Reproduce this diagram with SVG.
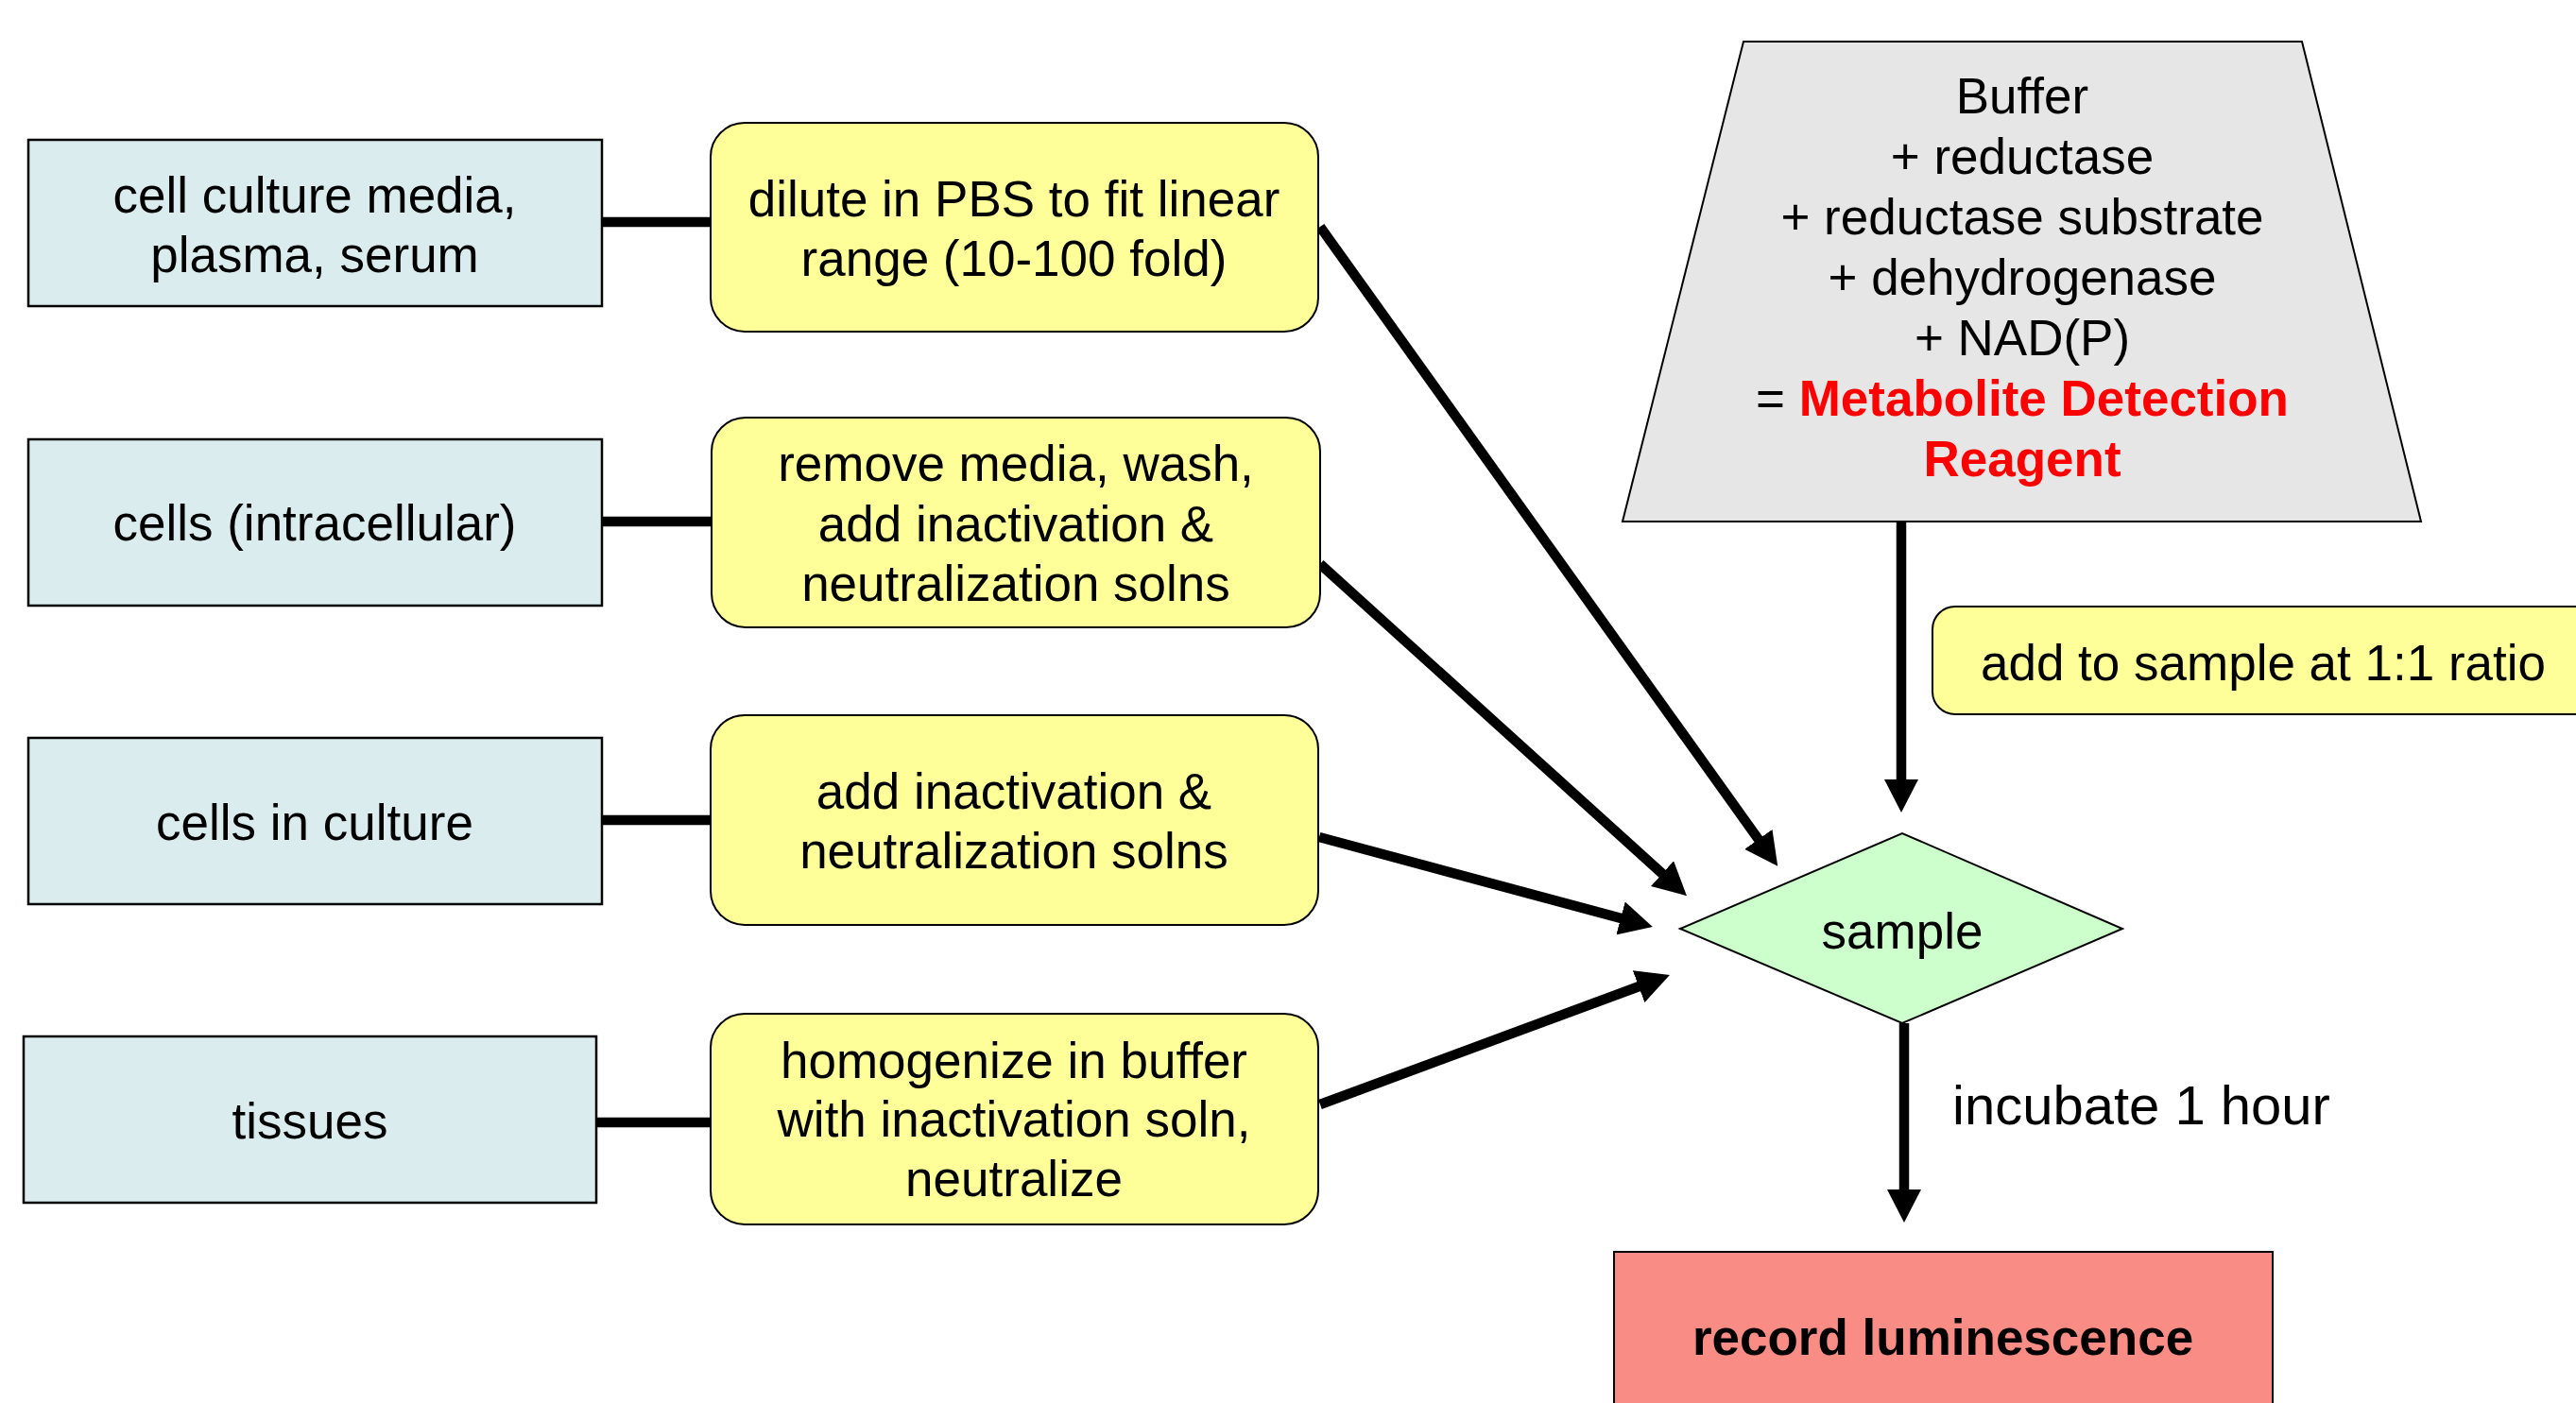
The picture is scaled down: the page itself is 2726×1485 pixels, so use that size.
<svg xmlns="http://www.w3.org/2000/svg" width="2726" height="1485" viewBox="0 0 2726 1485">
<style>
text{font-family:"Liberation Sans",Arial,sans-serif;font-size:53px;fill:#000;text-anchor:middle}
.src{fill:#daeced;stroke:#000;stroke-width:2.5}
.step{fill:#ffff99;stroke:#000;stroke-width:2}
.conn{stroke:#000;stroke-width:10.5;fill:none}
.red{fill:#ff0000;font-weight:bold}
</style>
<defs>
<marker id="ah" markerUnits="userSpaceOnUse" markerWidth="36" markerHeight="36" refX="2" refY="18" orient="auto" viewBox="0 0 36 36">
<path d="M0,0 L35,18 L0,36 z" fill="#000"/>
</marker>
</defs>
<rect width="2726" height="1485" fill="#fff"/>

<g id="connectors">
<line class="conn" x1="636" y1="235" x2="753" y2="235"/>
<line class="conn" x1="636" y1="552" x2="753" y2="552"/>
<line class="conn" x1="636" y1="868" x2="753" y2="868"/>
<line class="conn" x1="630" y1="1188" x2="753" y2="1188"/>
<line class="conn" x1="1397" y1="240" x2="1862" y2="890" marker-end="url(#ah)"/>
<line class="conn" x1="1397" y1="597" x2="1760.5" y2="926" marker-end="url(#ah)"/>
<line class="conn" x1="1396" y1="886" x2="1717" y2="972.4" marker-end="url(#ah)"/>
<line class="conn" x1="1397" y1="1169" x2="1736" y2="1043.5" marker-end="url(#ah)"/>
<line class="conn" x1="2012" y1="553" x2="2012" y2="827" marker-end="url(#ah)"/>
<line class="conn" x1="2015" y1="1083" x2="2015" y2="1261" marker-end="url(#ah)"/>
<text x="2266" y="1190" style="font-size:58px">incubate 1 hour</text>
</g>

<g id="src1"><rect class="src" x="30" y="148" width="607" height="176"/>
<text x="333" y="225">cell culture media,</text><text x="333" y="288">plasma, serum</text></g>
<g id="src2"><rect class="src" x="30" y="465" width="607" height="176"/>
<text x="333" y="572">cells (intracellular)</text></g>
<g id="src3"><rect class="src" x="30" y="781" width="607" height="176"/>
<text x="333" y="889">cells in culture</text></g>
<g id="src4"><rect class="src" x="25" y="1097" width="606" height="176"/>
<text x="328" y="1205">tissues</text></g>

<g id="step1"><rect class="step" x="752" y="130" width="643" height="221" rx="36" ry="36"/>
<text x="1073" y="229">dilute in PBS to fit linear</text><text x="1073" y="292">range (10-100 fold)</text></g>
<g id="step2"><rect class="step" x="753" y="442" width="644" height="222" rx="36" ry="36"/>
<text x="1075" y="509">remove media, wash,</text><text x="1075" y="573">add inactivation &amp;</text><text x="1075" y="636">neutralization solns</text></g>
<g id="step3"><rect class="step" x="752" y="757" width="643" height="222" rx="36" ry="36"/>
<text x="1073" y="856">add inactivation &amp;</text><text x="1073" y="919">neutralization solns</text></g>
<g id="step4"><rect class="step" x="752" y="1073" width="643" height="223" rx="36" ry="36"/>
<text x="1073" y="1141">homogenize in buffer</text><text x="1073" y="1203">with inactivation soln,</text><text x="1073" y="1266">neutralize</text></g>

<g id="reagent"><polygon points="1845,44 2436,44 2562,552 1717,552" fill="#e6e6e6" stroke="#000" stroke-width="2"/>
<text x="2140" y="120">Buffer</text>
<text x="2140" y="184">+ reductase</text>
<text x="2140" y="248">+ reductase substrate</text>
<text x="2140" y="312">+ dehydrogenase</text>
<text x="2140" y="376">+ NAD(P)</text>
<text x="2140" y="440">= <tspan class="red">Metabolite Detection</tspan></text>
<text x="2140" y="504" class="red">Reagent</text></g>

<g id="ratio"><rect class="step" x="2045" y="642" width="720" height="114" rx="24" ry="24"/>
<text x="2395" y="720">add to sample at 1:1 ratio</text></g>

<g id="sample"><polygon points="1778,983 2013,882 2246,983 2013,1083" fill="#ccffcc" stroke="#000" stroke-width="2"/>
<text x="2013" y="1004">sample</text></g>

<g id="record"><rect x="1708" y="1325" width="697" height="200" fill="#f98c85" stroke="#000" stroke-width="2"/>
<text x="2056" y="1434" style="font-size:53px;font-weight:bold">record luminescence</text></g>
</svg>
